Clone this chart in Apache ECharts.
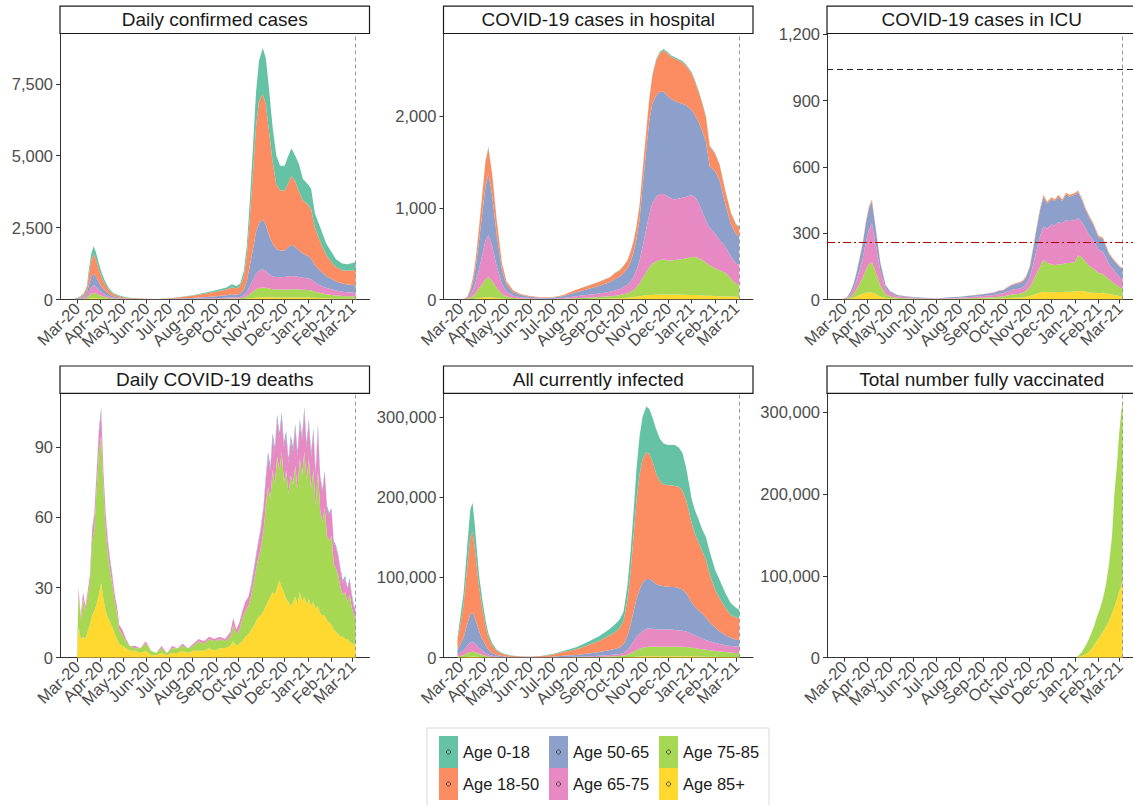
<!DOCTYPE html>
<html>
<head>
<meta charset="utf-8">
<title>COVID-19 by age group</title>
<script src="https://cdn.jsdelivr.net/npm/echarts@6/dist/echarts.min.js"></script>
<style>
  html, body { margin: 0; padding: 0; background: #ffffff; }
  #chart { width: 1133px; height: 805px; }
</style>
</head>
<body>
<div id="chart"></div>
<script>
// ---------------------------------------------------------------------------
// Age groups and their fill colours (stacked from 85+ at the bottom upwards)
// ---------------------------------------------------------------------------
const ageGroups = ['Age 0-18', 'Age 18-50', 'Age 50-65', 'Age 65-75', 'Age 75-85', 'Age 85+'];
const ageColors = ['#66C2A5', '#FC8D62', '#8DA0CB', '#E78AC3', '#A6D854', '#FFD92F'];

// Month tick positions and their labels on every x axis
const monthTicks = ['2020-03-01', '2020-04-01', '2020-05-01', '2020-06-01', '2020-07-01', '2020-08-01',
  '2020-09-01', '2020-10-01', '2020-11-01', '2020-12-01', '2021-01-01', '2021-02-01', '2021-03-01'];
const monthLabels = ['Mar-20', 'Apr-20', 'May-20', 'Jun-20', 'Jul-20', 'Aug-20',
  'Sep-20', 'Oct-20', 'Nov-20', 'Dec-20', 'Jan-21', 'Feb-21', 'Mar-21'];

// Last day with data (dashed vertical line)
const lastDataDate = '2021-03-05';
// ICU reference levels
const icuCapacity = 1040;
const icuThreshold = 260;

// Y tick values per panel
const yTicksCases = [0, 2500, 5000, 7500];
const yTicksHosp = [0, 1000, 2000];
const yTicksIcu = [0, 300, 600, 900, 1200];
const yTicksDeaths = [0, 30, 60, 90];
const yTicksInfected = [0, 100000, 200000, 300000];
const yTicksVax = [0, 100000, 200000, 300000];

// ---------------------------------------------------------------------------
// Dates shared by cases, hospital, ICU and currently infected
// ---------------------------------------------------------------------------
const dates = ['2020-02-26', '2020-03-05', '2020-03-10', '2020-03-14', '2020-03-17', '2020-03-20', '2020-03-23', '2020-03-26', '2020-03-30', '2020-04-03',
  '2020-04-07', '2020-04-12', '2020-04-18', '2020-04-25', '2020-05-01', '2020-05-10', '2020-05-20', '2020-06-01', '2020-06-15', '2020-07-01',
  '2020-07-15', '2020-08-01', '2020-08-15', '2020-09-01', '2020-09-15', '2020-09-22', '2020-09-28', '2020-10-03', '2020-10-08', '2020-10-12',
  '2020-10-16', '2020-10-20', '2020-10-24', '2020-10-28', '2020-11-02', '2020-11-06', '2020-11-10', '2020-11-15', '2020-11-20', '2020-11-25',
  '2020-12-01', '2020-12-05', '2020-12-10', '2020-12-15', '2020-12-20', '2020-12-25', '2021-01-01', '2021-01-05', '2021-01-10', '2021-01-15',
  '2021-01-20', '2021-01-25', '2021-02-01', '2021-02-07', '2021-02-15', '2021-02-22', '2021-03-01', '2021-03-05'];

// Daily confirmed cases
const cases0_18 = [5, 20, 40, 70, 200, 220, 270, 250, 200, 150, 110, 70, 40, 30, 20, 12, 8, 6, 4, 6,
  12, 22, 35, 50, 70, 100, 90, 90, 180, 340, 600, 900, 1200, 1400, 1600, 1600, 1500, 1200, 1000, 850,
  870, 950, 950, 900, 950, 750, 700, 700, 500, 500, 470, 400, 350, 270, 230, 230, 250, 300];
const cases18_50 = [7, 30, 70, 150, 380, 580, 680, 600, 450, 320, 230, 140, 80, 50, 35, 22, 15, 12, 8, 18,
  43, 73, 115, 160, 205, 250, 215, 260, 470, 910, 1700, 2650, 3650, 4250, 4370, 4200, 3650, 2850, 2250, 2100,
  2080, 2200, 2400, 2270, 2050, 1850, 1800, 1730, 1300, 1100, 900, 730, 580, 500, 460, 480, 520, 520];
const cases50_65 = [4, 25, 50, 100, 240, 370, 400, 350, 270, 190, 140, 85, 50, 32, 21, 12, 8, 6, 4, 9,
  21, 33, 48, 65, 85, 105, 95, 110, 200, 380, 720, 1070, 1470, 1650, 1730, 1600, 1370, 1150, 970, 930,
  920, 1000, 1080, 1020, 920, 840, 760, 720, 600, 530, 470, 410, 360, 320, 290, 270, 260, 250];
const cases65_75 = [2, 15, 35, 70, 150, 230, 270, 240, 170, 120, 85, 50, 28, 18, 11, 7, 4, 3, 2, 4,
  8, 13, 19, 27, 35, 43, 40, 50, 85, 160, 290, 410, 530, 600, 630, 590, 500, 440, 430, 425,
  435, 450, 460, 455, 435, 420, 410, 390, 330, 280, 250, 225, 200, 170, 145, 135, 130, 125];
const cases75_85 = [1, 6, 17, 45, 100, 160, 185, 165, 120, 90, 60, 37, 20, 12, 8, 4, 3, 2, 1, 2,
  4, 6, 9, 12, 17, 22, 20, 28, 47, 85, 150, 215, 285, 325, 340, 330, 302, 285, 278, 275,
  275, 280, 288, 283, 275, 270, 262, 245, 212, 188, 164, 145, 125, 110, 99, 91, 88, 85];
const cases85p = [1, 4, 8, 15, 30, 40, 45, 45, 40, 30, 25, 18, 12, 8, 5, 3, 2, 1, 1, 1,
  2, 3, 4, 6, 8, 10, 10, 12, 18, 25, 40, 55, 65, 75, 80, 80, 78, 75, 72, 70,
  70, 70, 72, 72, 70, 70, 68, 65, 58, 52, 46, 40, 35, 30, 26, 24, 22, 20];

// COVID-19 cases in hospital
const hosp0_18 = [0, 0, 0, 2, 4, 6, 8, 10, 12, 14, 15, 12, 8, 4, 2, 1, 1, 0, 0, 0,
  0, 1, 1, 2, 2, 3, 3, 3, 4, 4, 5, 6, 8, 10, 12, 14, 15, 15, 15, 15,
  15, 15, 15, 15, 15, 15, 14, 14, 13, 12, 12, 11, 10, 10, 9, 8, 7, 7];
const hosp18_50 = [0, 1, 7, 26, 47, 76, 110, 150, 210, 270, 280, 230, 160, 70, 35, 17, 10, 8, 5, 5,
  11, 26, 35, 43, 52, 65, 70, 78, 86, 104, 120, 135, 160, 170, 200, 240, 300, 380, 420, 450,
  460, 460, 460, 460, 450, 430, 400, 370, 330, 300, 270, 220, 190, 170, 140, 115, 105, 100];
const hosp50_65 = [0, 2, 10, 40, 80, 130, 220, 320, 460, 590, 670, 550, 340, 150, 75, 38, 23, 15, 9, 10,
  21, 45, 62, 85, 105, 125, 135, 155, 180, 215, 265, 340, 440, 650, 868, 1016, 1085, 1105, 1115, 1115,
  1095, 1085, 1075, 1045, 1025, 995, 926, 896, 880, 880, 858, 669, 680, 650, 461, 357, 318, 313];
const hosp65_75 = [0, 1, 7, 32, 60, 102, 160, 225, 320, 420, 455, 380, 235, 110, 53, 25, 15, 9, 6, 5,
  9, 21, 28, 37, 49, 58, 67, 79, 92, 113, 143, 185, 245, 340, 470, 580, 660, 705, 720, 715,
  695, 675, 660, 665, 670, 670, 680, 655, 610, 530, 460, 410, 380, 330, 280, 240, 220, 220];
const hosp75_85 = [0, 1, 4, 15, 30, 50, 78, 110, 150, 196, 220, 178, 109, 51, 26, 13, 7, 5, 3, 3,
  5, 10, 14, 20, 26, 30, 34, 40, 50, 60, 76, 105, 140, 190, 255, 302, 340, 363, 376, 380,
  370, 370, 375, 381, 387, 398, 410, 417, 404, 386, 358, 330, 302, 284, 256, 198, 140, 132];
const hosp85p = [0, 0, 1, 3, 5, 8, 12, 15, 20, 24, 25, 22, 16, 9, 6, 4, 3, 2, 1, 1,
  2, 4, 6, 8, 10, 12, 14, 16, 18, 22, 26, 30, 35, 40, 45, 48, 50, 52, 54, 55,
  55, 55, 55, 54, 53, 52, 50, 48, 46, 44, 42, 40, 38, 36, 34, 32, 30, 28];

// COVID-19 cases in ICU
const icu0_18 = [0, 0, 0, 0, 0, 0, 0, 0, 0, 0, 0, 0, 0, 0, 0, 0, 0, 0, 0, 0,
  0, 0, 0, 0, 0, 0, 0, 0, 0, 0, 0, 0, 0, 0, 0, 0, 0, 0, 0, 0,
  0, 0, 0, 0, 0, 0, 0, 0, 0, 0, 0, 0, 0, 0, 0, 0, 0, 0];
const icu18_50 = [0, 1, 1, 2, 3, 4, 5, 6, 8, 9, 8, 6, 4, 2, 1, 1, 1, 0, 0, 0,
  0, 1, 1, 1, 2, 2, 2, 3, 3, 3, 4, 4, 4, 5, 6, 7, 8, 8, 8, 8,
  8, 8, 8, 8, 8, 8, 8, 8, 8, 8, 7, 6, 6, 6, 5, 5, 4, 4];
const icu50_65 = [0, 3, 11, 22, 32, 43, 55, 66, 86, 97, 100, 70, 38, 15, 9, 5, 4, 3, 2, 1,
  3, 4, 6, 8, 10, 13, 14, 17, 21, 22, 24, 25, 27, 32, 45, 70, 90, 115, 135, 115,
  115, 110, 115, 100, 115, 110, 115, 115, 100, 85, 80, 70, 57, 58, 45, 43, 48, 46];
const icu65_75 = [0, 3, 13, 25, 38, 55, 70, 90, 125, 155, 175, 125, 65, 25, 14, 7, 5, 4, 3, 2,
  3, 4, 5, 8, 10, 13, 14, 17, 20, 22, 23, 24, 26, 30, 45, 70, 100, 135, 150, 155,
  180, 180, 190, 185, 195, 190, 190, 170, 160, 150, 140, 130, 105, 100, 70, 58, 45, 42];
const icu75_85 = [0, 2, 9, 19, 30, 43, 58, 74, 105, 128, 138, 100, 51, 18, 10, 5, 4, 3, 2, 1,
  2, 3, 4, 5, 6, 8, 9, 12, 15, 16, 17, 17, 20, 26, 39, 60, 85, 115, 145, 131,
  127, 122, 126, 126, 130, 130, 134, 162, 152, 135, 118, 110, 92, 85, 65, 52, 39, 35];
const icu85p = [0, 1, 4, 8, 12, 17, 22, 26, 30, 32, 32, 25, 14, 7, 4, 3, 2, 1, 1, 1,
  1, 1, 2, 3, 4, 5, 5, 6, 7, 8, 8, 9, 10, 12, 16, 20, 25, 30, 35, 34,
  33, 33, 34, 34, 35, 35, 36, 38, 38, 35, 32, 30, 28, 30, 25, 20, 16, 15];

// All currently infected
const inf0_18 = [4000, 15000, 25000, 35000, 36000, 30000, 20000, 15000, 12000, 8000,
  5000, 3000, 1500, 1000, 700, 500, 300, 250, 300, 700,
  1500, 2500, 4000, 6000, 8000, 10000, 11000, 12000, 18000, 25000,
  30000, 40000, 47000, 53000, 57000, 56000, 55000, 55000, 53000, 51000,
  50000, 50000, 51000, 49000, 47000, 40000, 30000, 30000, 29000, 27000,
  28000, 28000, 25000, 23000, 18000, 15000, 12000, 11000];
const inf18_50 = [11000, 40000, 73000, 96000, 100000, 85000, 69000, 53000, 37000, 24000,
  15000, 9000, 5000, 3000, 2000, 1200, 950, 800, 1100, 2500,
  4700, 7200, 10200, 14000, 18500, 21000, 24000, 29000, 45000, 65000,
  93000, 122000, 143000, 154000, 158000, 156000, 149000, 138000, 130000, 127000,
  126500, 127000, 126000, 126000, 123000, 116000, 99000, 91000, 85000, 78000,
  72000, 60000, 47000, 41000, 34000, 28000, 27500, 27000];
const inf50_65 = [6000, 16000, 27000, 35000, 37000, 32000, 26000, 20000, 14000, 10000,
  6000, 3500, 2100, 1200, 800, 500, 350, 290, 400, 850,
  1500, 2200, 3200, 4600, 6200, 7100, 8400, 11000, 17500, 26000,
  37000, 47000, 55000, 60000, 62000, 61500, 60000, 56500, 55000, 54000,
  53500, 53000, 53500, 53000, 51500, 47500, 39000, 36000, 33000, 31000,
  28000, 23500, 19500, 16000, 12500, 10500, 8500, 8500];
const inf65_75 = [2500, 6000, 9500, 12000, 12500, 11000, 9000, 7200, 5500, 3500,
  2400, 1500, 800, 450, 300, 180, 120, 100, 120, 280,
  500, 650, 950, 1400, 1900, 2200, 2600, 3400, 5700, 8500,
  12500, 16500, 19000, 20700, 22700, 22800, 22200, 21700, 21200, 21200,
  21200, 21200, 20700, 20300, 20000, 19300, 17500, 16000, 14700, 13500,
  12200, 11300, 10000, 9200, 8500, 8000, 8000, 7700];
const inf75_85 = [1200, 2400, 4500, 5700, 6100, 5700, 4900, 3900, 2800, 2000,
  1300, 800, 500, 290, 160, 100, 70, 50, 70, 140,
  250, 370, 530, 820, 1150, 1400, 1650, 2150, 3200, 4700,
  6500, 8200, 9500, 10600, 11500, 11800, 11900, 11900, 11900, 11900,
  11900, 11900, 11900, 11800, 11600, 11400, 10800, 10400, 9800, 9100,
  8500, 8000, 7400, 6800, 6100, 5700, 5200, 5000];
const inf85p = [300, 600, 1000, 1300, 1400, 1300, 1100, 900, 700, 500,
  300, 200, 100, 60, 40, 20, 10, 10, 10, 30,
  50, 80, 120, 180, 250, 300, 350, 450, 600, 800,
  1000, 1300, 1500, 1700, 1800, 1900, 1900, 1900, 1900, 1900,
  1900, 1900, 1900, 1900, 1900, 1800, 1700, 1600, 1500, 1400,
  1300, 1200, 1100, 1000, 900, 800, 800, 800];

// ---------------------------------------------------------------------------
// Daily COVID-19 deaths
// ---------------------------------------------------------------------------
const deathDates = ['2020-03-01', '2020-03-03', '2020-03-06', '2020-03-09', '2020-03-12', '2020-03-15', '2020-03-18', '2020-03-21', '2020-03-24', '2020-03-27',
  '2020-03-30', '2020-04-02', '2020-04-05', '2020-04-08', '2020-04-11', '2020-04-14', '2020-04-17', '2020-04-20', '2020-04-23', '2020-04-26',
  '2020-04-30', '2020-05-05', '2020-05-10', '2020-05-17', '2020-05-24', '2020-05-31', '2020-06-07', '2020-06-14', '2020-06-21', '2020-06-28',
  '2020-07-05', '2020-07-12', '2020-07-19', '2020-07-26', '2020-08-02', '2020-08-09', '2020-08-16', '2020-08-23', '2020-08-30', '2020-09-06',
  '2020-09-13', '2020-09-20', '2020-09-24', '2020-09-28', '2020-10-02', '2020-10-06', '2020-10-10', '2020-10-14', '2020-10-18', '2020-10-22',
  '2020-10-26', '2020-10-30', '2020-11-03', '2020-11-06', '2020-11-09', '2020-11-12', '2020-11-15', '2020-11-18', '2020-11-21', '2020-11-24',
  '2020-11-27', '2020-11-30', '2020-12-03', '2020-12-06', '2020-12-09', '2020-12-12', '2020-12-15', '2020-12-18', '2020-12-21', '2020-12-24',
  '2020-12-27', '2020-12-30', '2021-01-02', '2021-01-05', '2021-01-08', '2021-01-11', '2021-01-14', '2021-01-17', '2021-01-20', '2021-01-23',
  '2021-01-26', '2021-01-29', '2021-02-01', '2021-02-04', '2021-02-07', '2021-02-10', '2021-02-13', '2021-02-16', '2021-02-19', '2021-02-22',
  '2021-02-25', '2021-02-28', '2021-03-03', '2021-03-05'];
const deaths50_65 = [0, 0, 0, 0, 0, 0, 0, 1, 1, 1, 2, 2, 1, 1, 1, 1, 1, 0, 0, 0,
  0, 0, 0, 0, 0, 0, 0, 0, 0, 0, 0, 0, 0, 0, 0, 0, 0, 0, 0, 0,
  0, 0, 0, 0, 0, 0, 0, 0, 1, 1, 1, 1, 1, 2, 2, 2, 2, 2, 2, 2,
  2, 2, 2, 2, 2, 2, 2, 2, 2, 2, 2, 2, 2, 2, 2, 2, 2, 1, 1, 1,
  1, 1, 1, 1, 1, 1, 1, 1, 1, 1, 1, 1, 1, 1];
const deaths65_75 = [0, 2, 2, 3, 2, 2, 3, 4, 6, 7, 8, 10, 7, 7, 5, 4, 3, 3, 3, 2,
  2, 1, 0, 1, 0, 1, 0, 0, 1, 0, 1, 0, 1, 0, 1, 1, 1, 1, 1, 1,
  1, 2, 3, 2, 3, 3, 4, 4, 4, 5, 6, 8, 10, 11, 13, 12, 14, 14, 16, 14,
  15, 15, 15, 13, 15, 14, 16, 14, 15, 15, 17, 14, 15, 14, 16, 13, 18, 14, 13, 15,
  12, 11, 11, 9, 9, 8, 7, 5, 6, 5, 6, 5, 3, 3];
const deaths75_85 = [0, 15, 8, 16, 12, 15, 18, 32, 35, 49, 61, 63, 47, 34, 27, 22, 18, 14, 11, 6,
  5, 3, 2, 1, 2, 3, 2, 1, 2, 1, 2, 2, 2, 2, 2, 4, 3, 4, 4, 4,
  3, 4, 7, 5, 6, 10, 11, 12, 15, 20, 24, 28, 34, 43, 49, 42, 52, 47, 56, 47,
  58, 47, 55, 46, 56, 50, 56, 49, 57, 54, 62, 53, 60, 50, 56, 44, 58, 44, 40, 46,
  36, 35, 38, 28, 27, 25, 21, 18, 20, 16, 20, 15, 12, 11];
const deaths85p = [0, 13, 8, 9, 8, 11, 14, 18, 20, 23, 27, 32, 25, 20, 17, 15, 13, 10, 8, 6,
  5, 4, 3, 3, 2, 3, 1, 1, 2, 1, 2, 2, 3, 2, 3, 3, 3, 4, 3, 4,
  4, 5, 7, 5, 6, 7, 9, 10, 12, 14, 17, 18, 20, 22, 24, 26, 28, 27, 30, 33,
  30, 28, 25, 24, 22, 24, 26, 23, 28, 24, 26, 23, 25, 22, 24, 21, 22, 19, 18, 18,
  16, 15, 14, 12, 11, 10, 9, 9, 8, 8, 7, 6, 6, 5];

// ---------------------------------------------------------------------------
// Total number fully vaccinated
// ---------------------------------------------------------------------------
const vaxDates = ['2020-12-27', '2021-01-02', '2021-01-06', '2021-01-10', '2021-01-14', '2021-01-18', '2021-01-22', '2021-01-26', '2021-01-30', '2021-02-03',
  '2021-02-07', '2021-02-11', '2021-02-15', '2021-02-19', '2021-02-22', '2021-02-25', '2021-02-28', '2021-03-03', '2021-03-05'];
const vax75_85 = [0, 0, 2000, 4500, 9000, 14000, 19000, 23000, 29000, 34000,
  41000, 52000, 70000, 95000, 138000, 160000, 190000, 212000, 219000];
const vax85p = [0, 0, 1000, 2500, 4000, 6000, 10000, 15000, 21000, 26000,
  32000, 38000, 45000, 55000, 62000, 70000, 80000, 88000, 93000];

// ---------------------------------------------------------------------------
// Helpers
// ---------------------------------------------------------------------------
const DAY = 86400000;
function ts(s) {
  const p = s.split('-').map(Number);
  return Date.UTC(p[0], p[1] - 1, p[2]);
}
function thousands(v) {
  return String(v).replace(/\B(?=(\d{3})+(?!\d))/g, ',');
}
const monthTickTs = monthTicks.map(ts);
function monthLabel(v) {
  for (let i = 0; i < monthTickTs.length; i++) {
    if (Math.abs(monthTickTs[i] - v) < DAY / 2) return monthLabels[i];
  }
  return '';
}
const xMin = ts('2020-02-07') + DAY * 0.5;
const xMax = ts('2021-03-23') + DAY * 0.3;
// Blank end stops at both axis ends; ECharts' min/max label handling drops
// these instead of a month label when rotated labels overlap.
const xTickStops = [xMin + 1].concat(monthTickTs, [xMax - 1]);

// Panel definitions (values listed in ageGroups order, null = not drawn)
const panels = [
  { title: 'Daily confirmed cases', dates: dates, yMax: 9250, yTicks: yTicksCases,
    values: [cases0_18, cases18_50, cases50_65, cases65_75, cases75_85, cases85p] },
  { title: 'COVID-19 cases in hospital', dates: dates, yMax: 2900, yTicks: yTicksHosp,
    values: [hosp0_18, hosp18_50, hosp50_65, hosp65_75, hosp75_85, hosp85p] },
  { title: 'COVID-19 cases in ICU', dates: dates, yMax: 1204, yTicks: yTicksIcu,
    values: [icu0_18, icu18_50, icu50_65, icu65_75, icu75_85, icu85p], icuLines: true },
  { title: 'Daily COVID-19 deaths', dates: deathDates, yMax: 113, yTicks: yTicksDeaths,
    values: [null, null, deaths50_65, deaths65_75, deaths75_85, deaths85p] },
  { title: 'All currently infected', dates: dates, yMax: 329500, yTicks: yTicksInfected,
    values: [inf0_18, inf18_50, inf50_65, inf65_75, inf75_85, inf85p] },
  { title: 'Total number fully vaccinated', dates: vaxDates, yMax: 323000, yTicks: yTicksVax,
    values: [null, null, null, null, vax75_85, vax85p] }
];

// Facet layout
const colLeft = [60, 443.5, 827];
const rowTop = [33.5, 393.3];
const rowHeight = [266, 264.4];
const plotWidth = 309.5;
const stripHeight = 27.3;

const FONT = "'Liberation Sans', Arial, Helvetica, sans-serif";
const AXIS_COLOR = '#333333';
const TICK_TEXT = '#4D4D4D';

const grids = [], xAxes = [], yAxes = [], series = [], graphics = [];

panels.forEach((p, k) => {
  const col = k % 3, row = Math.floor(k / 3);
  const left = colLeft[col], top = rowTop[row], h = rowHeight[row];

  grids.push({ left: left, top: top, width: plotWidth, height: h,
    containLabel: false, outerBoundsMode: 'none' });

  // date axis drawn as a numeric (millisecond) axis with month ticks
  xAxes.push({
    type: 'value', gridIndex: k, min: xMin, max: xMax, scale: true,
    axisLine: { show: true, onZero: false, lineStyle: { color: AXIS_COLOR, width: 1 } },
    axisTick: { show: true, length: 4, customValues: xTickStops, lineStyle: { color: AXIS_COLOR } },
    axisLabel: { customValues: xTickStops, formatter: monthLabel, rotate: 45, margin: 6,
      showMinLabel: false, showMaxLabel: false, hideOverlap: false,
      fontSize: 16.5, color: TICK_TEXT, fontFamily: FONT },
    splitLine: { show: false }
  });

  yAxes.push({
    type: 'value', gridIndex: k, min: 0, max: p.yMax,
    axisLine: { show: true, onZero: false, lineStyle: { color: AXIS_COLOR, width: 1 } },
    axisTick: { show: true, length: 4, customValues: p.yTicks, lineStyle: { color: AXIS_COLOR } },
    axisLabel: { customValues: p.yTicks, formatter: thousands, margin: 7,
      showMinLabel: true, showMaxLabel: true,
      fontSize: 16.5, color: TICK_TEXT, fontFamily: FONT },
    splitLine: { show: false }
  });

  // stacked areas, 85+ at the bottom; each point is [count, date] so the
  // count is the first (stacked) dimension
  const panelSeries = [];
  for (let g = ageGroups.length - 1; g >= 0; g--) {
    const vals = p.values[g];
    if (!vals) continue;
    const s = {
      type: 'line', name: ageGroups[g], xAxisIndex: k, yAxisIndex: k, stack: 'panel' + k,
      data: p.dates.map((d, i) => [vals[i], ts(d)]),
      encode: { x: 1, y: 0 },
      symbol: 'none', showSymbol: false, silent: true,
      lineStyle: { width: 0, color: ageColors[g] },
      itemStyle: { color: ageColors[g] },
      areaStyle: { color: ageColors[g], opacity: 1 },
      emphasis: { disabled: true }
    };
    panelSeries.push(s);
    series.push(s);
  }

  const lines = [{ xAxis: ts(lastDataDate), lineStyle: { color: '#9A9A9A', type: [4, 3], width: 1 } }];
  if (p.icuLines) {
    lines.push({ yAxis: icuCapacity, lineStyle: { color: '#262626', type: [6, 4], width: 1.2 } });
    lines.push({ yAxis: icuThreshold, lineStyle: { color: '#B50000', type: [8, 3, 2, 3], width: 1.2 } });
  }
  panelSeries[panelSeries.length - 1].markLine = {
    silent: true, symbol: ['none', 'none'], label: { show: false },
    animation: false, data: lines
  };

  // facet strip
  graphics.push({
    type: 'rect', z: 10,
    shape: { x: left, y: top - stripHeight, width: plotWidth, height: stripHeight },
    style: { fill: '#ffffff', stroke: '#1A1A1A', lineWidth: 1.2 }
  });
  graphics.push({
    type: 'text', z: 11,
    x: left + plotWidth / 2, y: top - stripHeight / 2,
    style: { text: p.title, fill: '#1A1A1A', font: '19px ' + FONT,
      textAlign: 'center', textVerticalAlign: 'middle' }
  });
});

// Legend frame and key markers
const legendLeft = [439, 549, 659];
const legendTop = 736;
const keyW = 19, keyH = 32;
graphics.push({
  type: 'rect', z: 1,
  shape: { x: 427, y: 728, width: 342, height: 90 },
  style: { fill: 'none', stroke: '#D9D9D9', lineWidth: 1 }
});
legendLeft.forEach(lx => {
  [0, 1].forEach(r => {
    graphics.push({
      type: 'circle', z: 20,
      shape: { cx: lx + keyW / 2, cy: legendTop + keyH * r + keyH / 2, r: 2.1 },
      style: { fill: 'none', stroke: '#333333', lineWidth: 0.8 }
    });
  });
});

const legends = legendLeft.map((lx, c) => ({
  orient: 'vertical', left: lx, top: legendTop, padding: 0, itemGap: 0,
  itemWidth: keyW, itemHeight: keyH, icon: 'rect', selectedMode: false,
  itemStyle: { borderWidth: 0 },
  textStyle: { fontSize: 16.5, color: '#1A1A1A', fontFamily: FONT },
  data: [ageGroups[c * 2], ageGroups[c * 2 + 1]]
}));

const chart = echarts.init(document.getElementById('chart'), null, { renderer: 'svg', width: 1133, height: 805 });
chart.setOption({
  animation: false,
  backgroundColor: '#ffffff',
  textStyle: { fontFamily: FONT },
  color: ageColors,
  grid: grids,
  xAxis: xAxes,
  yAxis: yAxes,
  legend: legends,
  series: series,
  graphic: graphics
});
</script>
</body>
</html>
